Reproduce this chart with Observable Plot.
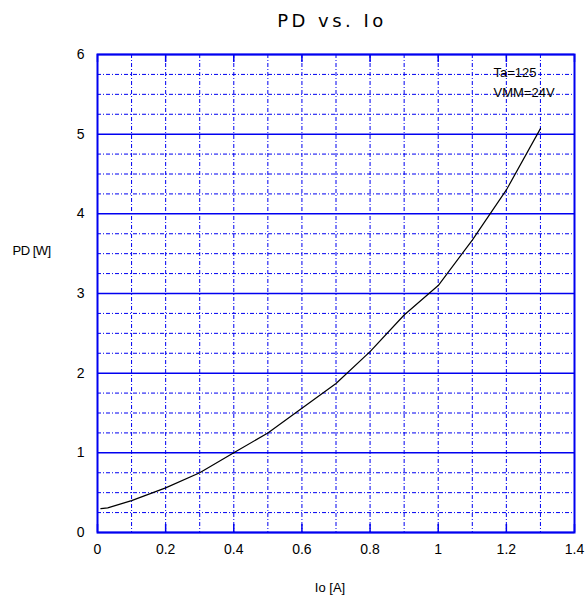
<!DOCTYPE html>
<html><head><meta charset="utf-8">
<script src="https://cdn.jsdelivr.net/npm/d3@7"></script>
<script src="https://cdn.jsdelivr.net/npm/@observablehq/plot@0.6"></script>
<style>body{margin:0;background:#fff} .ttl text{letter-spacing:3.5px} .ylab text{letter-spacing:-0.5px}</style>
</head><body><div id="chart"></div>
<script>
const title = "PD vs. Io";
const xLabel = "Io [A]";
const yLabel = "PD [W]";
const note1 = "Ta=125";
const note2 = "VMM=24V";
const io = [0.01, 0.03, 0.1, 0.2, 0.3, 0.4, 0.5, 0.6, 0.7, 0.8, 0.9, 1.0, 1.1, 1.2, 1.3];
const pd = [0.30, 0.31, 0.40, 0.56, 0.75, 1.00, 1.25, 1.56, 1.87, 2.27, 2.73, 3.10, 3.67, 4.30, 5.07];
const xTicks = [0, 0.2, 0.4, 0.6, 0.8, 1, 1.2, 1.4];
const yTicks = [0, 1, 2, 3, 4, 5, 6];
const xGrid = [0.1, 0.2, 0.3, 0.4, 0.5, 0.6, 0.7, 0.8, 0.9, 1.0, 1.1, 1.2, 1.3];
const yMinor = [0.25, 0.5, 0.75, 1.25, 1.5, 1.75, 2.25, 2.5, 2.75, 3.25, 3.5, 3.75, 4.25, 4.5, 4.75, 5.25, 5.5, 5.75];

const data = io.map((x, i) => ({x, y: pd[i]}));
const blue = "#0000f0";
const dash = "4,2,1,2";

const chart = Plot.plot({
  width: 585, height: 598,
  marginLeft: 97, marginRight: 11, marginTop: 54, marginBottom: 66,
  style: {fontFamily: "'Liberation Sans', Arial, sans-serif", fontSize: "14px", background: "#fff", color: "#000"},
  x: {domain: [0, 1.4], ticks: xTicks, label: null},
  y: {domain: [0, 6], ticks: yTicks, label: null},
  marks: [
    Plot.ruleX(xGrid, {stroke: blue, strokeWidth: 1, strokeDasharray: dash}),
    Plot.ruleY(yMinor, {stroke: blue, strokeWidth: 1, strokeDasharray: dash}),
    Plot.ruleY(yTicks, {stroke: blue, strokeWidth: 1.5}),
    Plot.ruleX(xTicks, {y1: 0, y2: 0.1, stroke: blue, strokeWidth: 1.5}),
    Plot.ruleX(xTicks, {y1: 5.9, y2: 6, stroke: blue, strokeWidth: 1.5}),
    Plot.frame({stroke: blue, strokeWidth: 2}),
    Plot.line(data, {x: "x", y: "y", stroke: "#000", strokeWidth: 1.2}),
    Plot.axisX(xTicks, {tickSize: 0, tickPadding: 12, tickFormat: d => String(d), fontSize: 14}),
    Plot.axisY(yTicks, {tickSize: 0, tickPadding: 13, tickFormat: d => String(d), fontSize: 14}),
    Plot.text([title], {text: d => d, frameAnchor: "top", dy: -40, dx: -4, fontSize: 18, fontFamily: "'DejaVu Sans', sans-serif", fill: "#000", className: "ttl"}),
    Plot.text([xLabel], {text: d => d, frameAnchor: "bottom", dy: 59, dx: -6, fontSize: 13, fill: "#000"}),
    Plot.text([yLabel], {text: d => d, frameAnchor: "left", dx: -85, dy: -43, fontSize: 13, fill: "#000", className: "ylab"}),
    Plot.text([note1], {text: d => d, frameAnchor: "top-left", dx: 396, dy: 13, fontSize: 13, fill: "#000"}),
    Plot.text([note2], {text: d => d, frameAnchor: "top-left", dx: 396, dy: 33, fontSize: 13, fill: "#000"})
  ]
});
document.getElementById("chart").appendChild(chart);
</script></body></html>
